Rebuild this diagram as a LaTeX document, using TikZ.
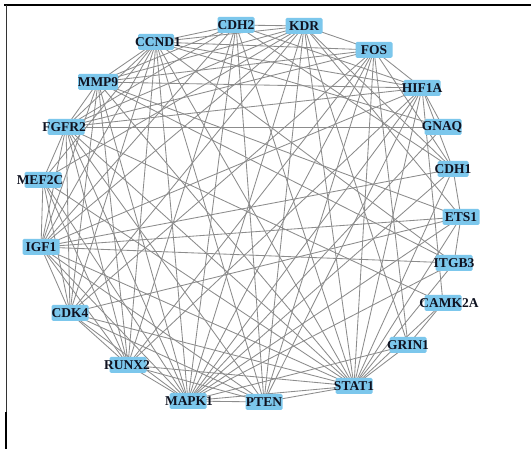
\documentclass[tikz,border=0pt]{standalone}
\usepackage{fontspec}
\setmainfont{Liberation Serif}
\usetikzlibrary{backgrounds}
\definecolor{boxc}{RGB}{124,199,236}
\definecolor{edgec}{RGB}{140,140,140}
\definecolor{txtc}{RGB}{15,18,32}
\tikzset{
  gnode/.style={fill=boxc, rounded corners=1.5pt, minimum width=37pt, minimum height=16pt, inner sep=0pt},
  lbl/.style={font=\fontsize{13.5}{14}\selectfont\bfseries, text=txtc, inner sep=0pt},
  edge/.style={draw=edgec, line width=0.85pt},
  frame/.style={draw=black, line width=1.8pt}
}
\begin{document}
\begin{tikzpicture}[x=1pt,y=-1pt]
\useasboundingbox (0,0) rectangle (531,449);
% nodes
\node[gnode, label={[lbl]center:CDH2}]  (CDH2) at (236,25) {};
\node[gnode, label={[lbl]center:KDR}]   (KDR)  at (304,26) {};
\node[gnode, minimum width=36pt, label={[lbl,xshift=2pt]center:CCND1}] (CCND) at (156,42) {};
\node[gnode, label={[lbl]center:FOS}]   (FOS)  at (374,50) {};
\node[gnode, minimum width=40pt, label={[lbl]center:MMP9}] (MMP) at (98,82) {};
\node[gnode, label={[lbl]center:HIF1A}] (HIF)  at (422,88) {};
\node[gnode, label={[lbl,xshift=-2pt]center:FGFR2}] (FGFR) at (66,127) {};
\node[gnode, label={[lbl,xshift=-1pt]center:GNAQ}]  (GNAQ) at (443,127) {};
\node[gnode, label={[lbl,xshift=-3pt]center:MEF2C}] (MEF)  at (43,180) {};
\node[gnode, minimum width=31pt, label={[lbl]center:CDH1}] (CDH1) at (453,169) {};
\node[gnode, label={[lbl]center:ETS1}]  (ETS)  at (461,217) {};
\node[gnode, label={[lbl]center:IGF1}]  (IGF)  at (41,247) {};
\node[gnode, label={[lbl]center:ITGB3}] (ITGB) at (454,263) {};
\node[gnode, label={[lbl]center:CDK4}]  (CDK4) at (70,313) {};
\node[gnode, label={[lbl,xshift=6pt]center:CAMK2A}] (CAMK) at (443,303) {};
\node[gnode, label={[lbl]center:GRIN1}] (GRIN) at (408,345) {};
\node[gnode, label={[lbl,xshift=-1pt]center:RUNX2}] (RUNX) at (128,365) {};
\node[gnode, label={[lbl]center:STAT1}] (STAT) at (354,386) {};
\node[gnode, label={[lbl,xshift=1pt]center:MAPK1}] (MAPK) at (188,401) {};
\node[gnode, label={[lbl]center:PTEN}]  (PTEN) at (264,402) {};
% frame
\coordinate (f1) at (4,5);
\coordinate (f2) at (531,5);
\coordinate (f3) at (6,5);
\coordinate (f4) at (6,412);
\coordinate (f5) at (6.3,412);
\coordinate (f6) at (6.3,449);
\begin{pgfonlayer}{background}
\fill[white] (0,0) rectangle (531,449);
\draw[frame] (f1) -- (f2);
\draw[draw=black!80, line width=0.8pt] (f3) -- (f4);
\draw[frame] (f5) -- (f6);
\foreach \a/\b in {
 CDH2/KDR, KDR/FOS, FOS/HIF, HIF/GNAQ, CDH1/ETS, ETS/ITGB, CAMK/GRIN, GRIN/STAT,
 STAT/PTEN, PTEN/MAPK, MAPK/RUNX, RUNX/CDK4, CDK4/IGF, IGF/MEF, MEF/FGFR, FGFR/MMP,
 MMP/CCND, CCND/CDH2,
 GNAQ/FGFR, GNAQ/MAPK, GNAQ/CCND, CAMK/STAT, CAMK/HIF, CAMK/FGFR, GRIN/FOS, GRIN/KDR,
 GRIN/MAPK, ITGB/IGF, ITGB/STAT, ITGB/MMP, ITGB/MAPK, ITGB/CCND, HIF/CDH1,
 MAPK/CDK4, MAPK/IGF, MAPK/MEF, MAPK/FGFR, MAPK/MMP, MAPK/CCND, MAPK/CDH2, MAPK/KDR,
 MAPK/FOS, MAPK/HIF, MAPK/CDH1, MAPK/ETS, MAPK/STAT,
 PTEN/RUNX, PTEN/CDK4, PTEN/IGF, PTEN/FGFR, PTEN/CCND, PTEN/CDH2, PTEN/KDR, PTEN/FOS,
 PTEN/HIF,
 STAT/CDK4, STAT/IGF, STAT/MEF, STAT/FGFR, STAT/MMP, STAT/CCND, STAT/CDH2, STAT/KDR,
 STAT/FOS, STAT/HIF, STAT/CDH1, STAT/ETS, STAT/RUNX,
 RUNX/IGF, RUNX/MEF, RUNX/FGFR, RUNX/MMP, RUNX/CCND, RUNX/CDH2, RUNX/FOS, RUNX/HIF,
 CDK4/MEF, CDK4/FGFR, CDK4/MMP, CDK4/CCND, CDK4/KDR, CDK4/FOS, CDK4/ETS,
 IGF/FGFR, IGF/MMP, IGF/CCND, IGF/CDH2, IGF/KDR, IGF/HIF, IGF/CDH1, IGF/ETS,
 MEF/CCND, MEF/KDR,
 FGFR/CCND, FGFR/CDH2, FGFR/KDR, FGFR/FOS, FGFR/HIF,
 MMP/CDH2, MMP/KDR, MMP/FOS, MMP/HIF, MMP/ETS,
 CCND/KDR, CCND/FOS, CCND/HIF,
 CDH2/HIF, CDH2/CDH1,
 KDR/CDH1, KDR/ETS, FOS/CDH1}
 \draw[edge] (\a.center) -- (\b.center);
\end{pgfonlayer}
\end{tikzpicture}
\end{document}
